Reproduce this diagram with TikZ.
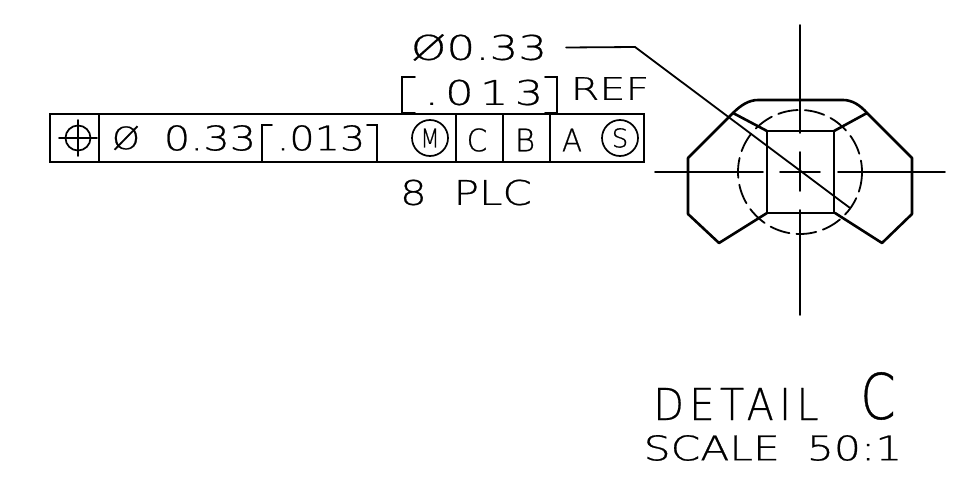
\documentclass[tikz,border=0pt]{standalone}
\usepackage{fontspec}
\newfontfamily\cadfont[FakeBold=.6]{DejaVu Sans ExtraLight}
\newfontfamily\cadwide[FakeBold=.6,LetterSpace=14]{DejaVu Sans ExtraLight}
\usetikzlibrary{positioning}

\begin{document}
\begin{tikzpicture}
  [x=1pt,y=-1pt,line cap=round,
   every node/.style={inner sep=0pt,outer sep=0pt,font=\cadfont,transform shape},
   cell/.style={draw,line width=1.7pt,minimum height=48pt},
   txt/.style={font=\cadfont\fontsize{34}{34}\selectfont},
   widetxt/.style={font=\cadwide\fontsize{34}{34}\selectfont},
   smalltxt/.style={font=\cadfont\fontsize{31}{31}\selectfont},
   mark circle/.style={circle,draw,line width=1.7pt,minimum size=36pt},
   outline/.style={line width=2.6pt,line join=round},
   axis/.style={line width=1.6pt},
   guide/.style={line width=1.8pt}]
  \useasboundingbox (0,0) rectangle (955,495);

  % frame of the tolerance
  \node[cell,minimum width=49pt] (pos) at (74.5,138) {};
  \node[cell,minimum width=357pt] (val) at (277.5,138) {};
  \node[cell,minimum width=47pt] (cc) at (479.5,138) {};
  \node[cell,minimum width=47pt] (bb) at (526.5,138) {};
  \node[cell,minimum width=94pt] (aa) at (597,138) {};

  \node[circle,draw,line width=1.7pt,minimum size=25pt] (sym) at (78,138) {};
  \draw[axis] (59,138) -- (97,138);
  \draw[axis] (78,120) -- (78,156);

  \node[smalltxt,xscale=1.15] (dia) at (126,138) {Ø};
  \node[txt,xscale=1.22] (val1) at (210,138) {0.33};
  \node[txt,xscale=1.17] (val2) at (321,138) {.013};
  \draw[guide] (272,125) -- (262,125) -- (262,162);
  \draw[guide] (367,125) -- (377,125) -- (377,162);

  \node[mark circle] (mm) at (430,138) {};
  \node[font=\cadfont\fontsize{26}{26}\selectfont,xscale=.85] (mm1) at (430,138) {M};
  \node[smalltxt,xscale=.95] (cc1) at (477,140) {C};
  \node[smalltxt,xscale=1] (bb1) at (525,140) {B};
  \node[smalltxt,xscale=.95] (aa1) at (572,140) {A};
  \node[mark circle] (ss) at (620,138) {};
  \node[font=\cadfont\fontsize{26}{26}\selectfont,xscale=1] (ss1) at (620,138) {S};

  % texts over and under
  \node[txt,xscale=1.33] (top) at (479,47.5) {Ø0.33};
  \node[widetxt,xscale=1.32] (ref) at (484,92.5) {.013};
  \draw[guide] (415,77) -- (402,77) -- (402,113) -- (415,113);
  \draw[guide] (545,77) -- (557,77) -- (557,113) -- (545,113);
  \node[smalltxt,xscale=1.33] (reftxt) at (610,88.5) {REF};
  \node[txt,xscale=1.24] (plc) at (466,192.5) {8\ \ PLC};

  % part
  \draw[outline] (767,131) -- (733,113) -- (688,158) -- (688,214) -- (719,243) -- (767,213);
  \draw[outline] (834,131) -- (867,113) -- (912,158) -- (912,214) -- (882,243) -- (835,213);
  \draw[outline] (733,113) .. controls (741,105) and (749,100) .. (758,100) -- (843,100)
    .. controls (852,100) and (860,105) .. (867,113);
  \draw[outline] (767,131) rectangle (834,213);
  \draw[line width=1.8pt,dash pattern=on 20pt off 7pt] (800,172) circle[radius=62];

  % center lines
  \foreach \from/\to in {655/763,780/820,838/945}
    \draw[axis] (\from,172) -- (\to,172);
  \foreach \from/\to in {25/133,152/191,210/315}
    \draw[axis] (800,\from) -- (800,\to);

  % leader
  \coordinate (knee) at (635,47);
  \coordinate (tip) at (850,208);
  \draw[guide] (top.east) ++(19,0) -- (knee) -- (tip);

  % title
  \node[font=\cadwide\fontsize{44}{44}\selectfont,xscale=.9] (det) at (736,404) {DETAIL};
  \node[font=\cadfont\fontsize{63}{63}\selectfont,xscale=.8] (letter) at (878,396) {C};
  \node[txt,xscale=1.25] (scl) at (773,448) {SCALE\ \ 50:1};
\end{tikzpicture}
\end{document}
